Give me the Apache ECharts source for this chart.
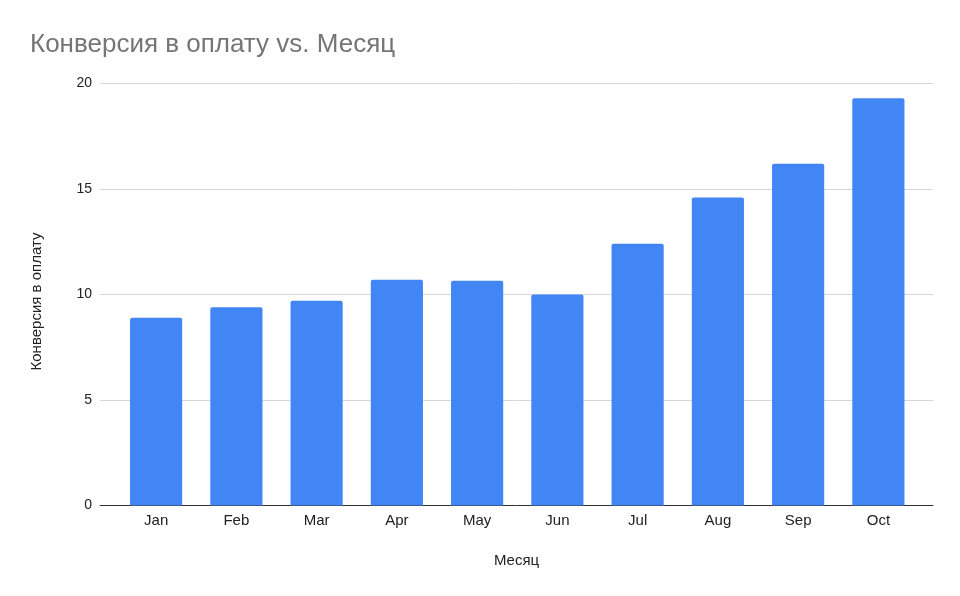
<!DOCTYPE html>
<html>
<head>
<meta charset="utf-8">
<script src="https://cdn.jsdelivr.net/npm/echarts@6/dist/echarts.min.js"></script>
<style>html,body{margin:0;padding:0;background:#fff}#c{width:960px;height:596px}</style>
</head>
<body>
<div id="c"></div>
<script>
const months = ['Jan','Feb','Mar','Apr','May','Jun','Jul','Aug','Sep','Oct'];
const conversion = [8.9, 9.4, 9.7, 10.7, 10.65, 10.0, 12.4, 14.6, 16.2, 19.3];
const yTicks = [0, 5, 10, 15, 20];
const titleText = 'Конверсия в оплату vs. Месяц';
const yName = 'Конверсия в оплату';
const xName = 'Месяц';

const FONT = 'Liberation Sans, Arial, sans-serif';
const chart = echarts.init(document.getElementById('c'), null, {renderer: 'canvas'});
chart.setOption({
  animation: false,
  backgroundColor: '#fff',
  title: {
    text: titleText, left: 25, top: 27,
    textStyle: {fontFamily: FONT, fontSize: 26, fontWeight: 'normal', color: '#757575'}
  },
  grid: [
    {left: 100, right: 27, top: 83.5, bottom: 90.5},
    {left: 116, right: 41.5, top: 83.5, bottom: 90.5}
  ],
  xAxis: [
    {gridIndex: 0, type: 'category', data: months, axisTick: {show: false}, axisLabel: {show: false},
     axisLine: {lineStyle: {color: '#333', width: 1}},
     name: xName, nameLocation: 'middle', nameGap: 48,
     nameTextStyle: {fontFamily: FONT, fontSize: 15, color: '#222'}},
    {gridIndex: 1, type: 'category', data: months, axisTick: {show: false}, axisLine: {show: false},
     axisLabel: {margin: 8, fontFamily: FONT, fontSize: 15, color: '#222'}}
  ],
  yAxis: [
    {gridIndex: 0, type: 'value', min: yTicks[0], max: yTicks[yTicks.length - 1], interval: 5,
     axisLine: {show: false}, axisTick: {show: false},
     axisLabel: {margin: 8, fontFamily: FONT, fontSize: 14, color: '#222'},
     splitLine: {lineStyle: {color: '#d6d6d6', width: 1}},
     name: yName, nameLocation: 'middle', nameGap: 56, nameRotate: 90,
     nameTextStyle: {fontFamily: FONT, fontSize: 15, color: '#222', padding: [0, 14, 0, 0]}},
    {gridIndex: 1, type: 'value', min: yTicks[0], max: yTicks[yTicks.length - 1], interval: 5,
     show: false, splitLine: {show: false}}
  ],
  series: [{
    type: 'bar', xAxisIndex: 1, yAxisIndex: 1, data: conversion,
    barCategoryGap: '35%',
    itemStyle: {color: '#4285F4', borderRadius: [2, 2, 0, 0]}
  }]
});
</script>
</body>
</html>
